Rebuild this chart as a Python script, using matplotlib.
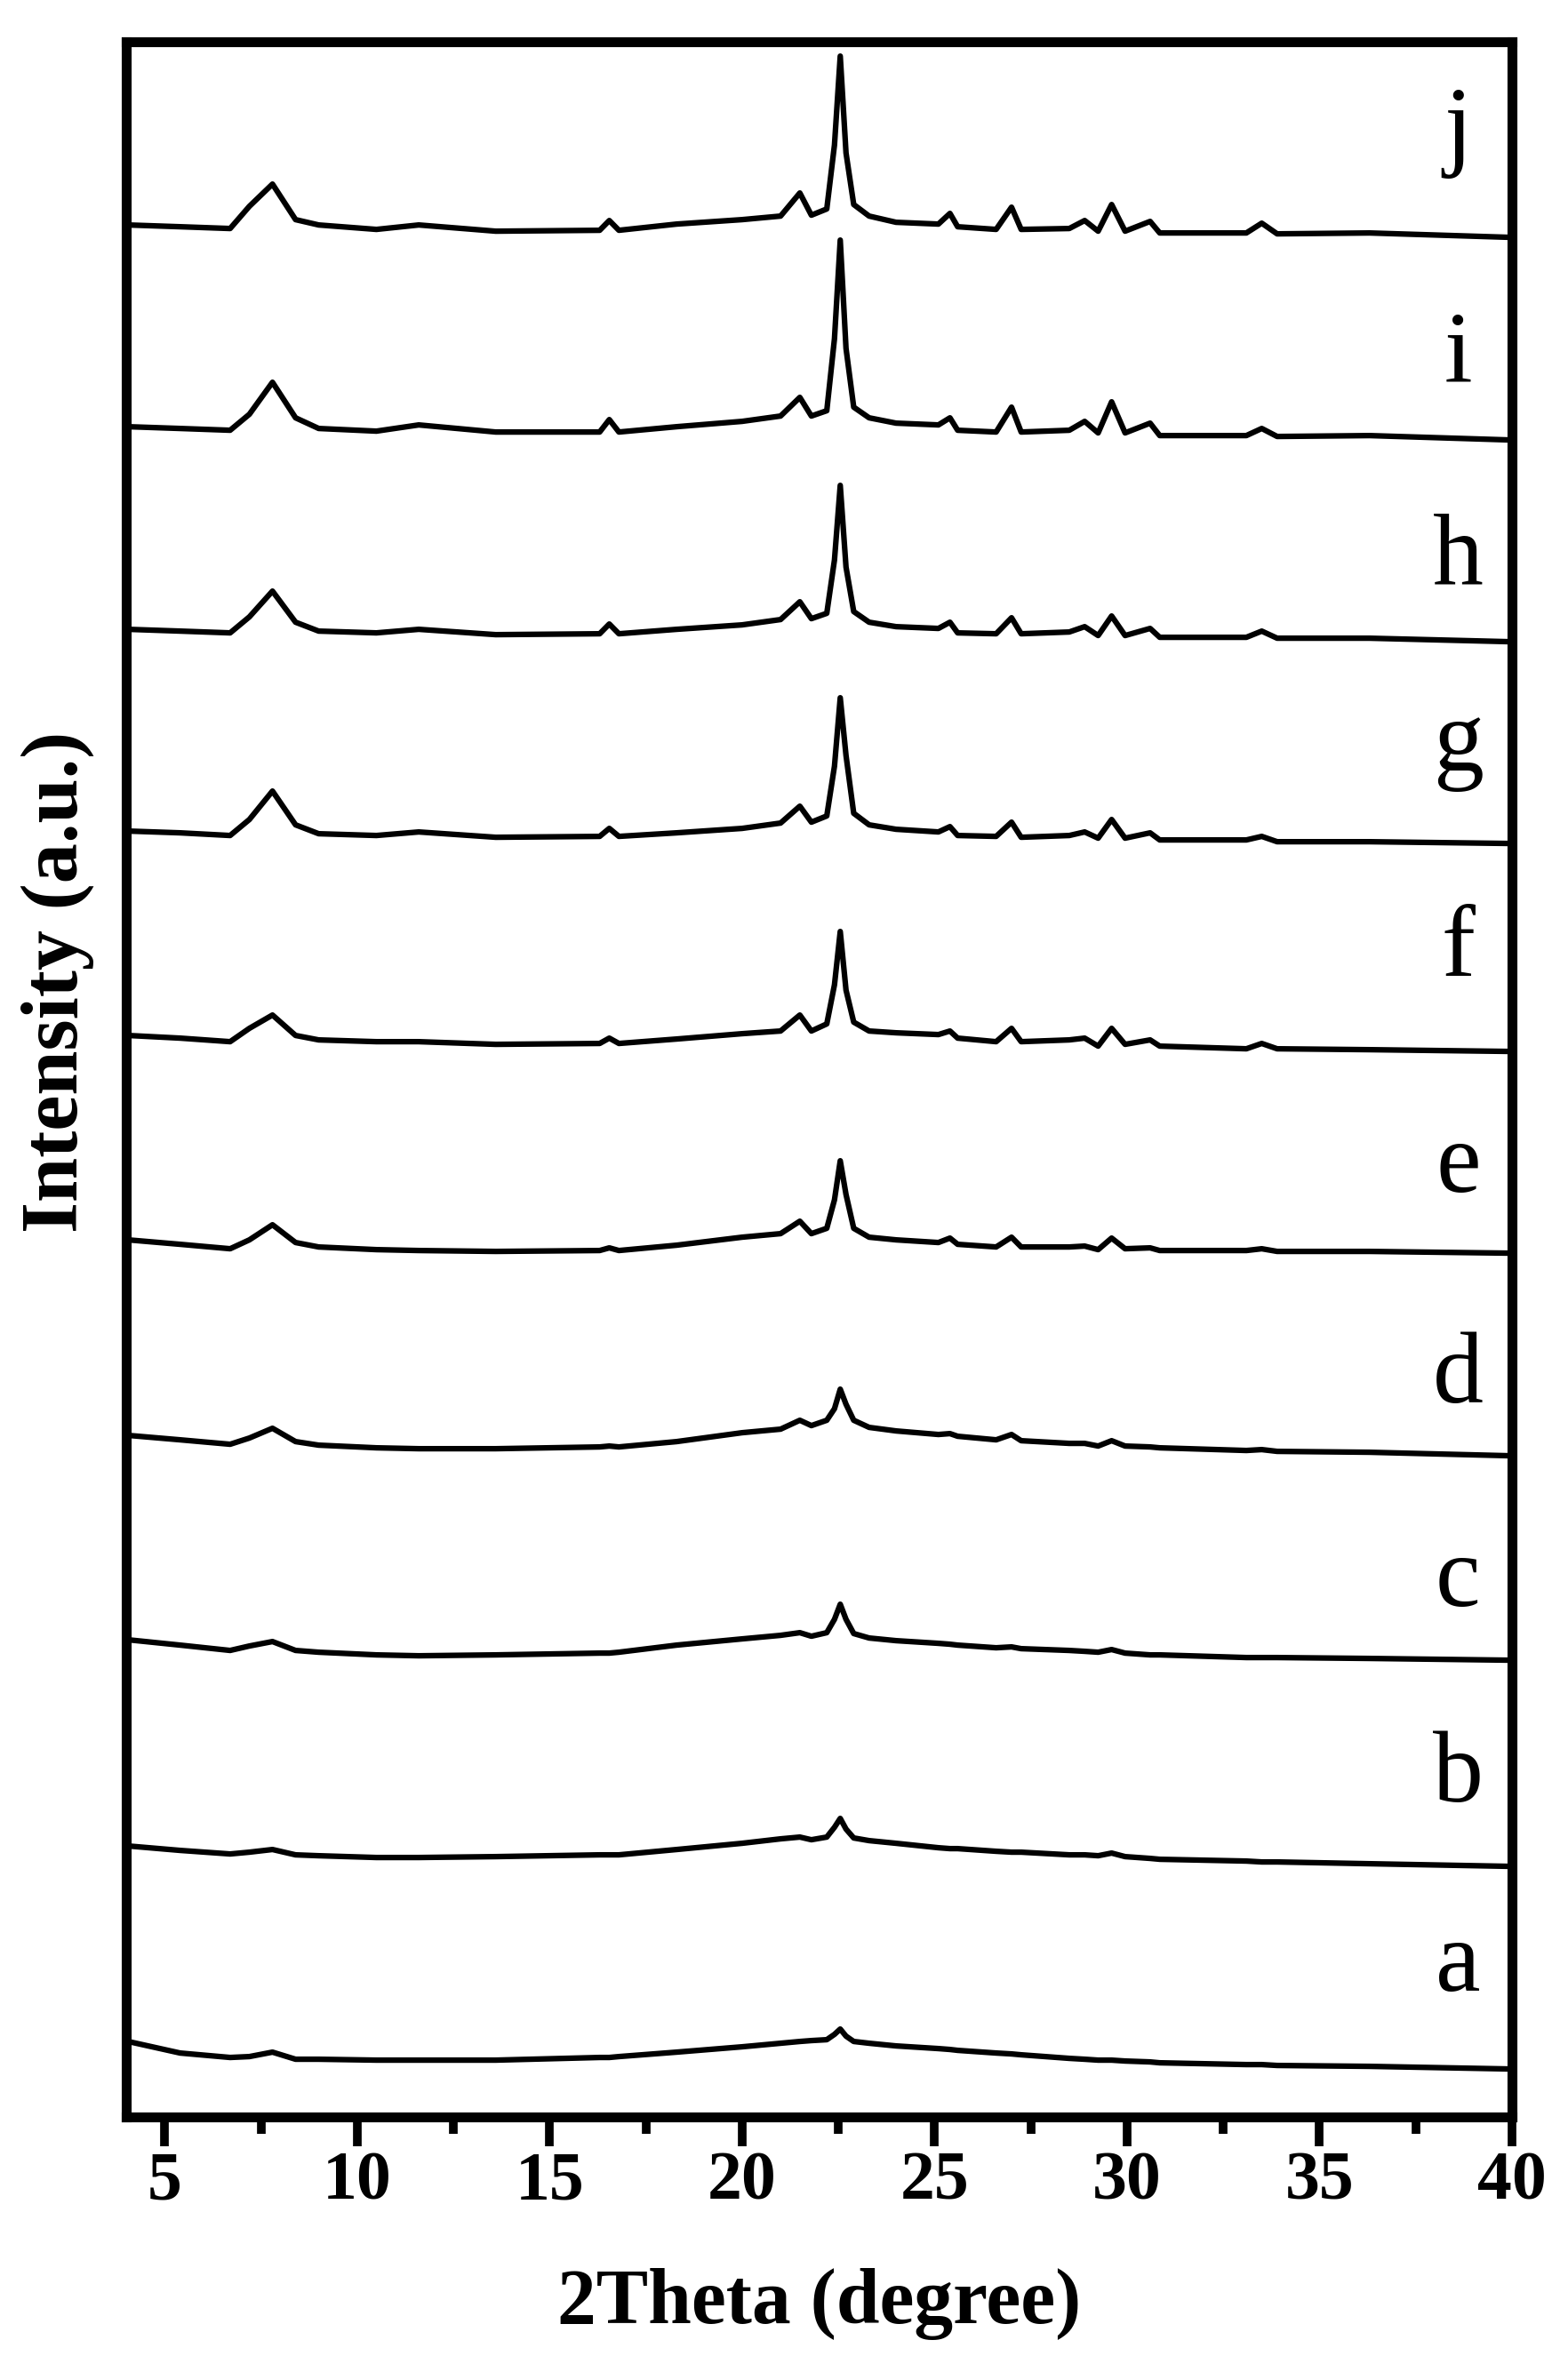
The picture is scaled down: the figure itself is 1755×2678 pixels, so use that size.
import numpy as np
import matplotlib.pyplot as plt
from matplotlib.ticker import MultipleLocator

plt.rcParams['font.family'] = ['Liberation Serif', 'DejaVu Serif']

# 2theta positions (degree) where the patterns were read
two_theta = [4.05, 5.4, 6.7, 7.2, 7.8, 8.4, 9.0, 10.5, 11.6, 13.6,
             16.3, 16.55, 16.8, 18.3, 20.0, 21.0, 21.5, 21.8, 22.2, 22.4,
             22.55, 22.7, 22.9, 23.3, 24.0, 25.1, 25.4, 25.6, 26.6, 27.0,
             27.25, 28.5, 28.9, 29.25, 29.6, 29.95, 30.6, 30.85, 33.1, 33.5,
             33.9, 36.3, 40.0]

# intensities (a.u.), each relative to its own stacking offset
int_a = [33, 20, 15, 16, 21, 13, 13, 12, 12, 12, 15, 15, 16, 21, 27, 31, 33, 34, 35, 41,
         47, 39, 33, 31, 28, 25, 24, 23, 20, 19, 18, 14, 13, 12, 12, 11, 10, 9, 7, 7, 6, 5, 2]
int_b = [25, 20, 16, 18, 21, 15, 14, 12, 12, 13, 15, 15, 15, 21, 28, 33, 35, 32, 35, 46,
         56, 44, 34, 31, 28, 23, 22, 22, 19, 18, 18, 15, 15, 14, 17, 13, 11, 10, 8, 7, 7, 5, 2]
int_c = [29, 23, 17, 22, 27, 17, 15, 12, 11, 12, 14, 14, 15, 23, 30, 34, 37, 33, 37, 52,
         69, 52, 36, 31, 28, 25, 24, 23, 20, 21, 19, 17, 16, 15, 18, 14, 12, 12, 9, 9, 9, 8, 6]
int_d = [31, 26, 21, 28, 39, 24, 20, 17, 16, 16, 18, 19, 18, 24, 34, 38, 48, 42, 48, 61,
         83, 66, 48, 40, 36, 32, 33, 30, 26, 32, 25, 22, 22, 19, 25, 19, 18, 17, 14, 15, 13, 12, 8]
int_e = [23, 18, 13, 23, 40, 20, 15, 12, 11, 10, 11, 14, 11, 17, 26, 30, 44, 30, 36, 68,
         112, 74, 36, 26, 23, 20, 25, 18, 15, 26, 15, 15, 16, 12, 25, 13, 14, 11, 11, 13, 10, 10, 8]
int_f = [25, 22, 18, 33, 48, 25, 20, 18, 18, 15, 16, 22, 16, 21, 27, 30, 48, 30, 38, 82,
         142, 76, 40, 30, 28, 26, 30, 22, 18, 33, 18, 20, 22, 13, 33, 15, 20, 13, 10, 16, 10, 9, 7]
int_g = [27, 25, 22, 40, 72, 34, 24, 22, 26, 20, 21, 30, 21, 25, 30, 36, 55, 37, 44, 100,
         177, 112, 47, 34, 29, 26, 32, 22, 21, 37, 20, 22, 26, 19, 40, 19, 25, 17, 17, 21, 15, 15, 13]
int_h = [26, 24, 22, 40, 69, 34, 24, 22, 26, 20, 21, 32, 21, 26, 31, 37, 57, 38, 44, 104,
         188, 96, 46, 34, 29, 27, 34, 22, 21, 39, 21, 23, 29, 19, 41, 19, 27, 17, 17, 24, 16, 16, 12]
int_i = [26, 24, 22, 40, 76, 36, 24, 21, 28, 20, 20, 34, 20, 26, 32, 38, 59, 38, 44, 125,
         236, 114, 48, 36, 30, 28, 36, 22, 20, 48, 20, 22, 32, 19, 54, 19, 30, 16, 16, 24, 15, 16, 11]
int_j = [25, 23, 21, 46, 71, 31, 25, 20, 25, 18, 19, 30, 19, 26, 31, 35, 61, 36, 43, 115,
         215, 106, 48, 35, 28, 26, 38, 23, 20, 45, 20, 21, 30, 18, 48, 18, 29, 16, 16, 27, 15, 16, 11]

sample_names = ['a', 'b', 'c', 'd', 'e', 'f', 'g', 'h', 'i', 'j']
patterns = [int_a, int_b, int_c, int_d, int_e, int_f, int_g, int_h, int_i, int_j]
label_height = [90, 75, 67, 68, 77, 92, 95, 78, 77, 101]
offset_step = 228

fig = plt.figure(figsize=(17.55, 26.78), dpi=100)
ax = fig.add_axes([0.0809, 0.1105, 0.8883, 0.8719])

for k, (name, y) in enumerate(zip(sample_names, patterns)):
	off = k*offset_step
	ax.plot(two_theta, np.array(y) + off, '-k', lw=4.5, solid_joinstyle='round')
	ax.text(38.6, off + label_height[k], name, fontsize=82, ha='center', va='baseline')

ax.set_xlim(4, 40)
ax.set_ylim(-52, 2283)

ax.xaxis.set_major_locator(MultipleLocator(5))
ax.xaxis.set_minor_locator(MultipleLocator(2.5))
ax.set_yticks([])
ax.tick_params(axis='x', which='major', direction='out', length=24, width=7, pad=4,
			   labelsize=56)
ax.tick_params(axis='x', which='minor', direction='out', length=14, width=7)
for lab in ax.get_xticklabels():
	lab.set_fontweight('bold')

for s in ax.spines.values():
	s.set_linewidth(8)

ax.set_xlabel('2Theta (degree)', fontsize=63, fontweight='bold', va='top')
ax.xaxis.set_label_coords(0.5, -0.0728)
ax.set_ylabel('Intensity (a.u.)', fontsize=65, fontweight='bold', va='baseline')
ax.yaxis.set_label_coords(-0.0353, 0.547)

fig.savefig('out.png', dpi=100)
